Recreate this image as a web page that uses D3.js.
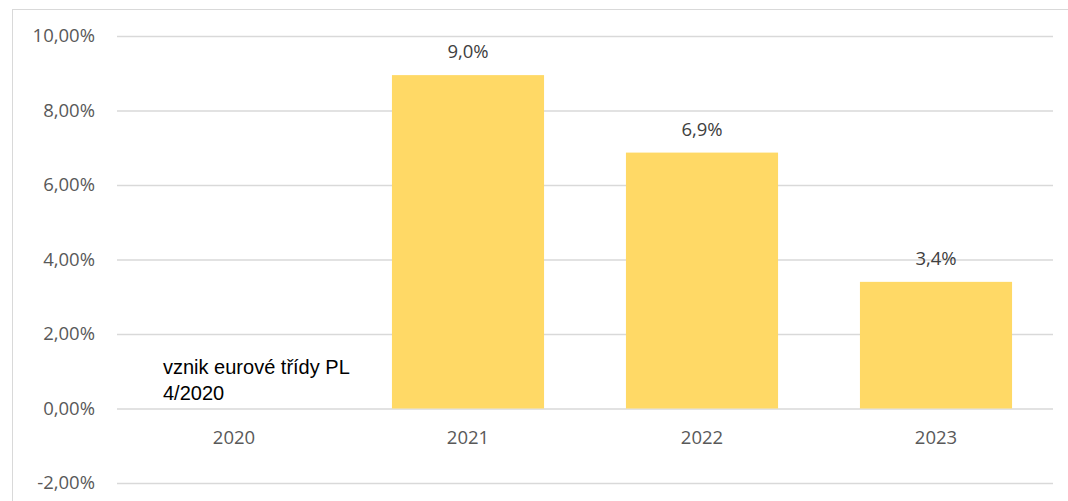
<!DOCTYPE html>
<html>
<head>
<meta charset="utf-8">
<script src="https://cdn.jsdelivr.net/npm/d3@7"></script>
<style>
body { margin: 0; background: #fff; }
svg { display: block; }
</style>
</head>
<body>
<script>
var w = 1068;
var h = 501;

// chart data
var years = ["2020", "2021", "2022", "2023"];
var values = [null, 0.0895, 0.0687, 0.034];
var valueLabels = ["", "9,0%", "6,9%", "3,4%"];
var yTicks = [-0.02, 0, 0.02, 0.04, 0.06, 0.08, 0.10];
var note = ["vznik eurové třídy PL", "4/2020"];

var left = 117, right = 1053;
var fontSize = "18.5px";

var svg = d3.select("body").append("svg")
    .attr("width", w)
    .attr("height", h);

// outer frame
svg.append("rect")
    .attr("x", 12.5).attr("y", 9.5)
    .attr("width", w + 20).attr("height", h + 20)
    .attr("fill", "none")
    .attr("stroke", "#d9d9d9");

var x = d3.scaleBand()
    .domain(years)
    .range([left, right])
    .paddingInner(0.35)
    .paddingOuter(0.175);

var y = d3.scaleLinear()
    .domain([-0.02, 0.10])
    .range([483, 36]);

// gridlines + y labels
var yAxis = d3.axisLeft(y)
    .tickValues(yTicks)
    .tickSize(-(right - left))
    .tickPadding(22)
    .tickFormat(function(d) { return (d * 100).toFixed(2).replace(".", ",") + "%"; });

var gy = svg.append("g")
    .attr("transform", "translate(" + left + ",0)")
    .call(yAxis);
gy.select(".domain").remove();
gy.selectAll(".tick line").attr("stroke", "#d9d9d9").attr("stroke-width", 1.3);
gy.selectAll(".tick text")
    .attr("fill", "#595959")
    .style("font-family", "'Open Sans', sans-serif")
    .style("font-size", fontSize);

var barData = years.map(function(d, i) { return { year: d, v: values[i], label: valueLabels[i] }; })
    .filter(function(d) { return d.v != null; });

// bars
svg.selectAll("rect.bar")
    .data(barData)
    .enter()
    .append("rect")
    .attr("class", "bar")
    .attr("x", function(d) { return x(d.year); })
    .attr("width", x.bandwidth())
    .attr("y", function(d) { return y(d.v); })
    .attr("height", function(d) { return y(0) - y(d.v); })
    .attr("fill", "#ffd966");

// value labels
svg.selectAll("text.val")
    .data(barData)
    .enter()
    .append("text")
    .attr("class", "val")
    .attr("x", function(d) { return x(d.year) + x.bandwidth() / 2; })
    .attr("y", function(d) { return y(d.v) - 17; })
    .attr("text-anchor", "middle")
    .attr("fill", "#404040")
    .style("font-family", "'Open Sans', sans-serif")
    .style("font-size", fontSize)
    .text(function(d) { return d.label; });

// x labels
svg.selectAll("text.cat")
    .data(years)
    .enter()
    .append("text")
    .attr("class", "cat")
    .attr("x", function(d) { return x(d) + x.bandwidth() / 2; })
    .attr("y", y(0) + 35)
    .attr("text-anchor", "middle")
    .attr("fill", "#595959")
    .style("font-family", "'Open Sans', sans-serif")
    .style("font-size", fontSize)
    .text(function(d) { return d; });

// annotation
svg.append("text")
    .attr("fill", "#000")
    .style("font-family", "'Liberation Sans', Arial, sans-serif")
    .style("font-size", "20px")
    .selectAll("tspan")
    .data(note)
    .enter()
    .append("tspan")
    .attr("x", 163)
    .attr("y", function(d, i) { return 374 + i * 26; })
    .text(function(d) { return d; });
</script>
</body>
</html>
